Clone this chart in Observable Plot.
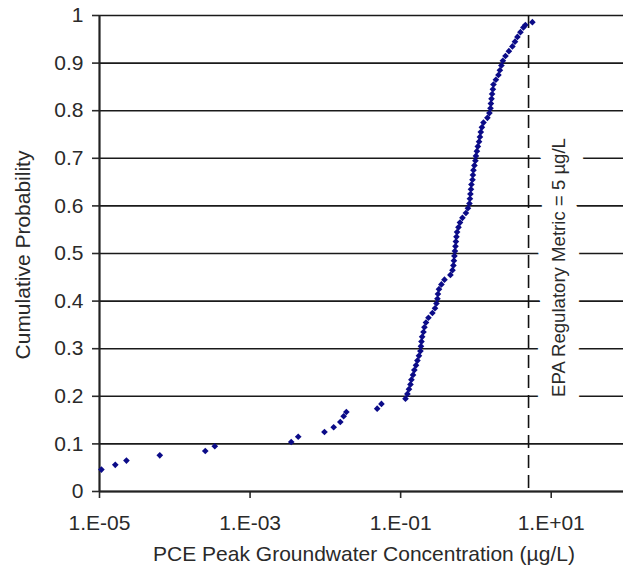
<!DOCTYPE html>
<html><head><meta charset="utf-8">
<script src="https://cdn.jsdelivr.net/npm/d3@7"></script>
<script src="https://cdn.jsdelivr.net/npm/@observablehq/plot@0.6"></script>
<style>
body{margin:0;background:#fff}
#chart svg{display:block}
#chart svg g[aria-label$="tick"]{stroke-width:1.6}
</style>
</head><body><div id="chart"></div>
<script>
// Concentrations (µg/L)
const conc = [1.06e-5, 1.62e-5, 2.28e-5, 6.32e-5, 2.54e-4, 3.40e-4, 3.52e-3, 4.36e-3, 9.73e-3, 0.0129,
  0.0158, 0.0175, 0.0190, 0.0488, 0.0556,
  0.116, 0.123, 0.129, 0.135, 0.139, 0.146, 0.152, 0.160, 0.167, 0.175,
  0.183, 0.186, 0.189, 0.193, 0.201, 0.207, 0.217, 0.234, 0.264, 0.286,
  0.299, 0.308, 0.313, 0.323, 0.348, 0.382, 0.458, 0.488, 0.502, 0.510,
  0.518, 0.526, 0.535, 0.542, 0.551, 0.562, 0.586, 0.614, 0.662, 0.736,
  0.783, 0.820, 0.832, 0.845, 0.859, 0.871, 0.900, 0.912, 0.927, 0.955,
  0.984, 1.00, 1.03, 1.06, 1.10, 1.13, 1.16, 1.20, 1.26, 1.42,
  1.51, 1.56, 1.58, 1.61, 1.64, 1.68, 1.71, 1.84, 1.99, 2.08,
  2.18, 2.28, 2.47, 2.74, 3.05, 3.30, 3.56, 3.90, 4.27, 4.54, 5.62];
// Cumulative probabilities
const prob = [0.046, 0.056, 0.065, 0.076, 0.085, 0.095, 0.104, 0.115, 0.125, 0.135,
  0.146, 0.158, 0.167, 0.174, 0.184,
  0.195, 0.205, 0.215, 0.225, 0.235, 0.245, 0.255, 0.265, 0.275, 0.285,
  0.295, 0.305, 0.315, 0.325, 0.335, 0.345, 0.355, 0.365, 0.375, 0.385,
  0.395, 0.405, 0.415, 0.425, 0.435, 0.445, 0.455, 0.465, 0.475, 0.485,
  0.495, 0.505, 0.515, 0.525, 0.535, 0.545, 0.555, 0.565, 0.575, 0.585,
  0.595, 0.605, 0.615, 0.625, 0.635, 0.645, 0.655, 0.665, 0.675, 0.685,
  0.695, 0.705, 0.715, 0.725, 0.735, 0.745, 0.755, 0.765, 0.775, 0.785,
  0.795, 0.805, 0.815, 0.825, 0.835, 0.845, 0.855, 0.865, 0.875, 0.885,
  0.895, 0.905, 0.915, 0.925, 0.935, 0.945, 0.955, 0.965, 0.975, 0.980, 0.986];
const xTicks = [1e-5, 1e-3, 1e-1, 1e1];
const yTicks = [0, 0.1, 0.2, 0.3, 0.4, 0.5, 0.6, 0.7, 0.8, 0.9, 1];
const epaLimit = [5];
const xTitle = "PCE Peak Groundwater Concentration (µg/L)";
const yTitle = "Cumulative Probability";
const epaLabel = "EPA Regulatory Metric = 5 µg/L";

const data = conc.map((c, i) => ({conc: c, prob: prob[i]}));
const fmtX = d => {
  const e = Math.round(Math.log10(d));
  return "1.E" + (e < 0 ? "-" : "+") + String(Math.abs(e)).padStart(2, "0");
};

const plot = Plot.plot({
  width: 623, height: 573,
  marginLeft: 99, marginRight: -3, marginTop: 15, marginBottom: 82,
  style: {fontFamily: "'Liberation Sans', Arial, sans-serif", fontSize: "21px", color: "#2a2a2a", background: "#fff"},
  x: {type: "log", domain: [1e-5, 1e2], ticks: xTicks, tickFormat: fmtX, tickSize: 7, tickPadding: 17, label: null},
  y: {domain: [0, 1], ticks: yTicks, tickFormat: d => String(+d.toFixed(1)), tickSize: 7, tickPadding: 9, label: null},
  marks: [
    Plot.ruleY(yTicks, {stroke: "#1a1a1a", strokeWidth: 1.6}),
    Plot.ruleX(epaLimit, {stroke: "#111", strokeWidth: 1.6, strokeDasharray: "13,7"}),
    Plot.ruleX([1e-5], {stroke: "#222", strokeWidth: 2.2}),
    Plot.ruleY([0], {stroke: "#222", strokeWidth: 2.2}),
    Plot.dot(data, {x: "conc", y: "prob", symbol: "diamond2", r: 3, fill: "#0b0b88", stroke: null})
  ]
});

const svg = d3.select(plot);
svg.append("text")
  .attr("transform", "translate(30,255) rotate(-90)")
  .attr("text-anchor", "middle").attr("fill", "#2a2a2a")
  .text(yTitle);
svg.append("text")
  .attr("x", 364).attr("y", 561)
  .attr("text-anchor", "middle").attr("fill", "#2a2a2a")
  .text(xTitle);
const sx = plot.scale("x");
const ex = sx.apply(epaLimit[0]) + 37.3;
svg.append("text")
  .attr("transform", `translate(${ex},267.5) rotate(-90)`)
  .attr("text-anchor", "middle").attr("fill", "#2a2a2a")
  .attr("font-size", "18.6px")
  .attr("stroke", "#fff").attr("stroke-width", 28)
  .attr("stroke-linejoin", "round").attr("paint-order", "stroke")
  .text(epaLabel);

document.getElementById("chart").appendChild(plot);
</script>
</body></html>
